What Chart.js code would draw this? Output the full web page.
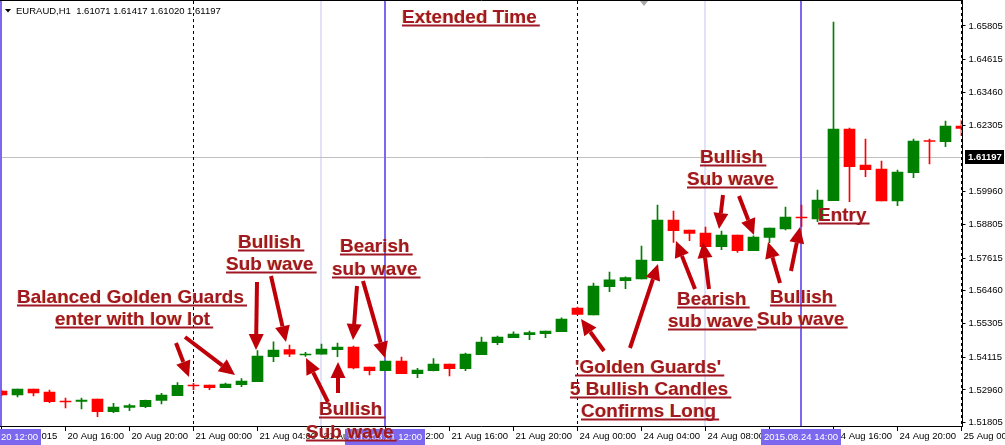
<!DOCTYPE html>
<html>
<head>
<meta charset="utf-8">
<title>EURAUD H1</title>
<script src="https://cdn.jsdelivr.net/npm/chart.js@4.4.1/dist/chart.umd.min.js"></script>
<style>
html, body { margin: 0; padding: 0; background: #fff; overflow: hidden; }
#wrap { width: 1005px; height: 445px; }
</style>
</head>
<body>
<div id="wrap"><canvas id="mycanvas" width="1005" height="445"></canvas></div>
<script>
// header of the chart window
var symbol = 'EURAUD,H1';
var headerOHLC = [1.61071, 1.61417, 1.61020, 1.61197];

// hourly sessions shown: day, first hour, last hour
var sessions = [['20 Aug', 12, 23], ['21 Aug', 0, 23], ['24 Aug', 0, 23], ['25 Aug', 0, 0]];

// candles (one per hour)
var open = [
    1.52924, 1.52782, 1.52994, 1.52888, 1.52571, 1.52560, 1.52641, 1.52193, 1.52348, 1.52370,
    1.52595, 1.52758, 1.53125, 1.53135, 1.53040, 1.53146, 1.53252, 1.54134, 1.54381, 1.54194,
    1.54219, 1.54381, 1.54476, 1.53771, 1.53640, 1.53982, 1.53534, 1.53640, 1.53876, 1.53711,
    1.54205, 1.54628, 1.54805, 1.54910, 1.54946, 1.55016, 1.55853, 1.55606, 1.56604, 1.56816,
    1.56876, 1.57522, 1.58958, 1.58605, 1.58499, 1.58016, 1.58429, 1.57875, 1.58348, 1.58641,
    1.59046, 1.58994, 1.59639, 1.62170, 1.60899, 1.60758, 1.59629, 1.60627, 1.61746, 1.61721,
    1.62276
];
var high = [
    1.52959, 1.52994, 1.52994, 1.52959, 1.52677, 1.52677, 1.52641, 1.52490, 1.52465, 1.52606,
    1.52842, 1.53217, 1.53195, 1.53135, 1.53206, 1.53358, 1.54346, 1.54663, 1.54547, 1.54289,
    1.54582, 1.54618, 1.54512, 1.53771, 1.53982, 1.54124, 1.53725, 1.54064, 1.53876, 1.54265,
    1.54829, 1.54865, 1.55016, 1.55041, 1.55041, 1.55510, 1.55888, 1.56735, 1.57123, 1.56957,
    1.58041, 1.59488, 1.59276, 1.58605, 1.58711, 1.58570, 1.58429, 1.58400, 1.58676, 1.59417,
    1.59488, 1.60017, 1.65946, 1.62205, 1.61817, 1.61040, 1.60723, 1.61817, 1.61817, 1.62452,
    1.62487
];
var low = [
    1.52747, 1.52712, 1.52747, 1.52511, 1.52324, 1.52288, 1.52017, 1.52158, 1.52228, 1.52334,
    1.52465, 1.52758, 1.52969, 1.52969, 1.53040, 1.53075, 1.53252, 1.53958, 1.54134, 1.54148,
    1.54219, 1.54134, 1.53700, 1.53488, 1.53640, 1.53534, 1.53393, 1.53629, 1.53453, 1.53640,
    1.54205, 1.54558, 1.54805, 1.54734, 1.54805, 1.55016, 1.55606, 1.55606, 1.56428, 1.56534,
    1.56876, 1.57522, 1.58171, 1.58228, 1.58016, 1.57910, 1.57818, 1.57875, 1.58157, 1.58605,
    1.58722, 1.58898, 1.59639, 1.59604, 1.60486, 1.59629, 1.59463, 1.60451, 1.60934, 1.61545,
    1.61933
];
var close = [
    1.52782, 1.52994, 1.52853, 1.52546, 1.52535, 1.52606, 1.52193, 1.52359, 1.52405, 1.52595,
    1.52782, 1.53125, 1.53100, 1.53040, 1.53171, 1.53277, 1.54159, 1.54371, 1.54219, 1.54229,
    1.54406, 1.54476, 1.53735, 1.53640, 1.53982, 1.53534, 1.53665, 1.53876, 1.53711, 1.54229,
    1.54653, 1.54829, 1.54935, 1.54981, 1.55041, 1.55465, 1.55630, 1.56629, 1.56851, 1.56922,
    1.57547, 1.58958, 1.58581, 1.58489, 1.58016, 1.58429, 1.57875, 1.58358, 1.58676, 1.59064,
    1.59029, 1.59664, 1.62170, 1.60839, 1.60733, 1.59629, 1.60652, 1.61746, 1.61729, 1.62276,
    1.62194
];

// axis labels
var xTickLabels = ['20 Aug 2015', '20 Aug 16:00', '20 Aug 20:00', '21 Aug 00:00', '21 Aug 04:00',
    '21 Aug 08:00', '21 Aug 12:00', '21 Aug 16:00', '21 Aug 20:00', '24 Aug 00:00', '24 Aug 04:00',
    '24 Aug 08:00', '24 Aug 12:00', '24 Aug 16:00', '24 Aug 20:00', '25 Aug 00:00'];
var yTickValues = [1.51805, 1.52960, 1.54115, 1.55305, 1.56460, 1.57615, 1.58805,
    1.59960, 1.62305, 1.63460, 1.64615, 1.65805];
var yMin = 1.51653, yMax = 1.66652;
var currentPrice = headerOHLC[3];

// vertical lines by candle index
var periodBreaks = [12, 36, 60];
var markerLines = [0, 24, 50];
var markerLabels = ['2015.08.20 12:00', '2015.08.21 12:00', '2015.08.24 14:00'];
var cursorLines = [20, 44];

// hand drawn notes: [text, left, baseline]
var notes = [
    ['Extended Time', 402, 23],
    ['Balanced Golden Guards', 17, 303],
    ['enter with low lot', 55, 325],
    ['Bullish', 238, 248],
    ['Sub wave', 226, 270],
    ['Bearish', 340, 252],
    ['sub wave', 332, 275],
    ['Bullish', 319, 415],
    ['Sub wave', 306, 438],
    ["'Golden Guards'", 575, 373],
    ['5 Bullish Candles', 570, 395],
    ['Confirms Long', 581, 417],
    ['Bullish', 700, 163],
    ['Sub wave', 687, 185],
    ['Bearish', 677, 305],
    ['sub wave', 668, 327],
    ['Bullish', 770, 303],
    ['Sub wave', 757, 325],
    ['Entry', 818, 221]
];
// arrows: [fromX, fromY, toX, toY]
var arrows = [
    [176, 343, 189, 377], [185, 337, 235, 375], [257, 282, 256, 350], [271, 276, 286, 342],
    [357, 286, 353, 340], [363, 281, 385, 358], [328, 402, 306, 358], [338, 393, 338, 362],
    [604, 351, 581, 319], [630, 348, 658, 264], [695, 289, 676, 241], [709, 289, 703, 242],
    [723, 195, 719, 229], [739, 196, 754, 235], [780, 283, 768, 242], [791, 271, 800, 227]
];

var slotLabels = [];
sessions.forEach(function(s){
    for (var h = s[1]; h <= s[2]; h++) {
        slotLabels.push(s[0] + ' ' + (h < 10 ? '0' + h : h) + ':00');
    }
});

var bodyData = open.map(function(o, i){ return [o, close[i]]; });
var wickData = low.map(function(l, i){ return [l, high[i]]; });
var candleColor = close.map(function(c, i){ return c >= open[i] ? '#008000' : '#ff0000'; });

var axisFont = { family: '"Liberation Sans", Arial, sans-serif', size: 9.5 };
var noteFont = 'bold 19px "Liberation Sans", Arial, sans-serif';

function noPadding(scale) {
    scale.paddingLeft = 0;
    scale.paddingRight = 0;
    scale.paddingTop = 0;
    scale.paddingBottom = 0;
}

function drawArrow(ctx, x1, y1, x2, y2) {
    var ang = Math.atan2(y2 - y1, x2 - x1), hl = 16, hw = 7.5;
    var bx = x2 - hl * Math.cos(ang), by = y2 - hl * Math.sin(ang);
    ctx.beginPath();
    ctx.moveTo(x1, y1);
    ctx.lineTo(bx, by);
    ctx.stroke();
    ctx.beginPath();
    ctx.moveTo(x2, y2);
    ctx.lineTo(bx + hw * Math.sin(ang), by - hw * Math.cos(ang));
    ctx.lineTo(bx - hw * Math.sin(ang), by + hw * Math.cos(ang));
    ctx.closePath();
    ctx.fill();
}

var overlay = {
    id: 'overlay',
    beforeDatasetsDraw: function(chart) {
        var ctx = chart.ctx, a = chart.chartArea, xs = chart.scales.x, ys = chart.scales.y;
        ctx.save();
        ctx.lineWidth = 2;
        ctx.strokeStyle = '#e1e1f7';
        cursorLines.forEach(function(i){
            var x = xs.getPixelForValue(i) - 0.5;
            ctx.beginPath(); ctx.moveTo(x, 0); ctx.lineTo(x, a.bottom); ctx.stroke();
        });
        var py = Math.round(ys.getPixelForValue(currentPrice)) + 0.5;
        ctx.lineWidth = 1;
        ctx.strokeStyle = '#c0c0c0';
        ctx.beginPath(); ctx.moveTo(0, py); ctx.lineTo(963, py); ctx.stroke();
        ctx.strokeStyle = '#000';
        ctx.setLineDash([3, 3]);
        periodBreaks.forEach(function(i){
            var x = xs.getPixelForValue(i);
            ctx.beginPath(); ctx.moveTo(x, 1); ctx.lineTo(x, a.bottom); ctx.stroke();
        });
        ctx.setLineDash([]);
        ctx.lineWidth = 2;
        ctx.strokeStyle = '#7b68ee';
        markerLines.forEach(function(i){
            var x = xs.getPixelForValue(i) - 0.5;
            ctx.beginPath(); ctx.moveTo(x, 0); ctx.lineTo(x, a.bottom); ctx.stroke();
        });
        ctx.restore();
    },
    afterDraw: function(chart) {
        var ctx = chart.ctx, xs = chart.scales.x, ys = chart.scales.y;
        ctx.save();
        // frame
        ctx.strokeStyle = '#000';
        ctx.lineWidth = 1;
        ctx.beginPath();
        ctx.moveTo(0, 0.5); ctx.lineTo(963, 0.5);
        ctx.moveTo(962.5, 0); ctx.lineTo(962.5, 427);
        ctx.moveTo(0, 426.5); ctx.lineTo(963, 426.5);
        ctx.stroke();

        // header
        ctx.fillStyle = '#000';
        ctx.beginPath(); ctx.moveTo(5, 9); ctx.lineTo(11, 9); ctx.lineTo(8, 12.5); ctx.closePath(); ctx.fill();
        ctx.font = '9.5px "Liberation Sans", Arial, sans-serif';
        ctx.textBaseline = 'alphabetic';
        ctx.textAlign = 'left';
        ctx.fillText(symbol + '  ' + headerOHLC.map(function(v){ return v.toFixed(5); }).join(' '), 16, 14);

        // chart shift marker
        ctx.fillStyle = '#a8a8a8';
        ctx.beginPath(); ctx.moveTo(640, 1); ctx.lineTo(648, 1); ctx.lineTo(644, 6); ctx.closePath(); ctx.fill();

        // current price box
        var py = Math.round(ys.getPixelForValue(currentPrice));
        ctx.fillStyle = '#000';
        ctx.fillRect(965, py - 7, 39, 14);
        ctx.fillStyle = '#fff';
        ctx.font = 'bold 9.5px "Liberation Sans", Arial, sans-serif';
        ctx.textBaseline = 'middle';
        ctx.fillText(currentPrice.toFixed(5), 968, py + 0.5);

        // time labels of the vertical lines
        ctx.font = '9.5px "Liberation Sans", Arial, sans-serif';
        ctx.textAlign = 'center';
        markerLines.forEach(function(i, k){
            var x = xs.getPixelForValue(i) - 0.5;
            ctx.fillStyle = '#7b68ee';
            ctx.fillRect(x - 40, 429, 80, 16);
            ctx.fillStyle = '#fff';
            ctx.fillText(markerLabels[k], x, 437.5);
        });

        // arrows
        ctx.strokeStyle = '#c00008';
        ctx.fillStyle = '#c00008';
        ctx.lineWidth = 4;
        arrows.forEach(function(r){ drawArrow(ctx, r[0], r[1], r[2], r[3]); });

        // notes, with the faint warm fringe of the original
        ctx.font = noteFont;
        ctx.textAlign = 'left';
        ctx.textBaseline = 'alphabetic';
        notes.forEach(function(n){
            var w = ctx.measureText(n[0]).width;
            ctx.fillStyle = 'rgba(230,150,60,0.55)';
            ctx.fillText(n[0], n[1] - 0.8, n[2] - 0.4);
            ctx.fillStyle = '#a01824';
            ctx.fillText(n[0], n[1], n[2]);
            ctx.fillRect(n[1], n[2] + 1.5, w + 3, 2);
        });
        ctx.restore();
    }
};

var ctx = document.getElementById('mycanvas');
var candleChart = new Chart(ctx, {
    type: 'bar',
    data: {
        labels: slotLabels,
        datasets: [
            { label: 'body', data: bodyData, backgroundColor: candleColor, barThickness: 11,
              minBarLength: 1, grouped: false, order: 0 },
            { label: 'wick', data: wickData, backgroundColor: candleColor, barThickness: 1,
              grouped: false, order: 1 }
        ]
    },
    options: {
        responsive: false,
        animation: false,
        devicePixelRatio: 1,
        layout: { padding: { left: 1.5, top: 2, right: 0, bottom: 0 } },
        plugins: { legend: { display: false }, tooltip: { enabled: false } },
        scales: {
            x: {
                type: 'category',
                offset: false,
                afterFit: function(scale){ scale.height = 18; noPadding(scale); },
                border: { display: false },
                grid: {
                    drawOnChartArea: false, offset: false, tickLength: 4,
                    color: function(c){ return c.index % 4 === 0 ? '#000' : 'rgba(0,0,0,0)'; }
                },
                ticks: {
                    autoSkip: false, maxRotation: 0, minRotation: 0, align: 'start',
                    padding: 0, labelOffset: 2, color: '#000', font: axisFont,
                    callback: function(v, i){ return i % 4 === 0 ? xTickLabels[i / 4] : ''; }
                }
            },
            y: {
                position: 'right',
                min: yMin,
                max: yMax,
                afterFit: function(scale){ scale.width = 43.5; noPadding(scale); },
                afterBuildTicks: function(scale){
                    scale.ticks = yTickValues.map(function(v){ return { value: v }; });
                },
                border: { display: false },
                grid: { drawOnChartArea: false, tickLength: 4, color: '#000' },
                ticks: {
                    padding: 3, color: '#000', font: axisFont,
                    callback: function(v){ return Number(v).toFixed(5); }
                }
            }
        }
    },
    plugins: [overlay]
});
</script>
</body>
</html>
